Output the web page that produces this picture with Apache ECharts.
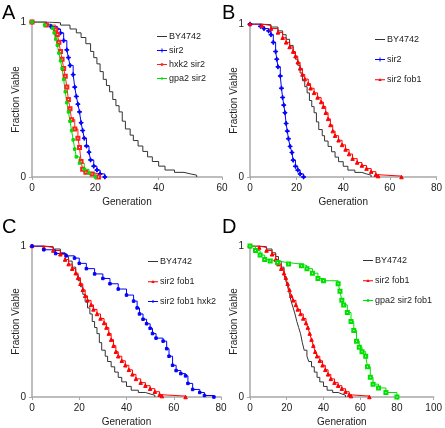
<!DOCTYPE html>
<html>
<head>
<meta charset="utf-8">
<script src="https://cdn.jsdelivr.net/npm/echarts@6/dist/echarts.min.js"></script>
<style>
html,body{margin:0;padding:0;background:#fff;}
#chart{width:445px;height:428px;}
</style>
</head>
<body>
<div id="chart"></div>
<script>
// ---- data (generation, fraction viable) ----
const by4742Gen  = [0,5,9,12,14,15.5,17,18.5,19.5,20.5,21.5,22.5,23.5,24.5,25.5,26.5,27.5,28.5,29.5,31,32,33.5,35,36.5,38,40,42,45,48,50,52];
const by4742Frac = [1,0.995,0.98,0.955,0.93,0.9,0.86,0.81,0.77,0.73,0.68,0.63,0.59,0.55,0.5,0.46,0.42,0.36,0.31,0.27,0.235,0.2,0.165,0.13,0.1,0.07,0.045,0.03,0.02,0.012,0];

const sir2Gen  = [0,4.5,6,8,9,10,11,11.5,12,13,13.5,14,14.5,15,15.5,16,16.5,17.2,18,18.5,19.5,20.5,21.5,23];
const sir2Frac = [1,0.985,0.97,0.955,0.93,0.88,0.82,0.77,0.72,0.66,0.58,0.52,0.47,0.42,0.35,0.3,0.25,0.2,0.16,0.11,0.07,0.045,0.02,0];

const hxk2Sir2Gen  = [0,4.5,7.5,8,8.5,9,9.5,10,10.5,11,11.5,12,12.5,13.5,14.5,15,15.5,16,17,19,21];
const hxk2Sir2Frac = [1,0.98,0.95,0.92,0.87,0.81,0.76,0.7,0.65,0.58,0.5,0.44,0.37,0.31,0.25,0.19,0.1,0.05,0.03,0.02,0];

const gpa2Sir2Gen  = [0,4,6.5,7,7.5,8,8.5,9,9.5,10,10.5,11,11.5,12,12.5,13,13.5,14,15,16.5,18,20];
const gpa2Sir2Frac = [1,0.98,0.96,0.93,0.89,0.85,0.8,0.75,0.7,0.63,0.55,0.48,0.42,0.36,0.3,0.24,0.18,0.13,0.09,0.05,0.025,0];

const sir2Fob1Gen  = [0,5,9,12,14,15.5,17,18.5,19.5,20.5,21.5,22.5,23.5,25,26,27.5,29,30.5,31.5,32.5,33.5,34.5,35.5,36.5,38,39.5,41,42.5,44,46,48,50,52,54,55,65];
const sir2Fob1Frac = [1,0.99,0.97,0.945,0.91,0.88,0.85,0.82,0.79,0.75,0.71,0.67,0.64,0.61,0.58,0.55,0.52,0.49,0.46,0.42,0.38,0.34,0.3,0.27,0.24,0.21,0.18,0.15,0.12,0.095,0.075,0.055,0.035,0.015,0.006,0];

const sir2Fob1Hxk2Gen  = [0,5,10,14.5,18,20,23,26.5,30,33,36.5,40,43,44.5,45.5,47,48.5,50,51,52.5,55.5,57,58,59.5,61,63,65,66,68,71,73,77];
const sir2Fob1Hxk2Frac = [1,0.975,0.95,0.935,0.92,0.885,0.85,0.815,0.785,0.75,0.715,0.675,0.635,0.59,0.55,0.515,0.485,0.455,0.42,0.39,0.37,0.32,0.27,0.21,0.175,0.155,0.14,0.09,0.05,0.03,0.01,0];

const gpa2Sir2Fob1Gen  = [0,3,5.5,8,11,15,21,28,31,34,37,40,48,49,50,51,53,55,56.5,58,59.5,61,63,64,65.5,67,70,74,80];
const gpa2Sir2Fob1Frac = [1,0.97,0.94,0.91,0.9,0.89,0.88,0.87,0.85,0.82,0.785,0.77,0.75,0.7,0.64,0.61,0.56,0.5,0.44,0.37,0.33,0.3,0.27,0.2,0.13,0.085,0.06,0.03,0];

const panelLetters = ['A','B','C','D'];
const xMax = [60, 80, 80, 100];
const legendA = ['BY4742','sir2','hxk2 sir2','gpa2 sir2'];
const legendB = ['BY4742','sir2','sir2 fob1'];
const legendC = ['BY4742','sir2 fob1','sir2 fob1 hxk2'];
const legendD = ['BY4742','sir2 fob1','gpa2 sir2 fob1'];

// ---- build ----
const FONT = 'Liberation Sans, Arial, sans-serif';
const AXIS_COLOR = '#a8a8a8';
const TEXT_COLOR = '#222';
const zip = (g, f) => g.map((v, i) => [v, f[i]]);
const PLUS = 'path://M2,0H3V2H5V3H3V5H2V3H0V2H2Z';

// legend icons: short line with small marker in the middle
const ICON_LINE   = 'path://M0,2.5H10V3.5H0Z';
const ICON_PLUS   = 'path://M0,2.5H4.5V1H5.5V2.5H10V3.5H5.5V5H4.5V3.5H0Z';
const ICON_SQUARE = 'path://M0,2.5H3.8V1.8H6.2V2.5H10V3.5H6.2V4.2H3.8V3.5H0Z';
const ICON_TRI    = 'path://M0,2.5H4.3L5,1.2L5.7,2.5H10V3.5H6.2L6.6,4.3H3.4L3.8,3.5H0Z';
const ICON_DOT    = 'path://M0,2.5H4V2H6V2.5H10V3.5H6V4H4V3.5H0Z';

const styles = {
  'BY4742':         {color:'#333333', symbol:'none', size:0, icon:ICON_LINE},
  'sir2':           {color:'#0000ff', symbol:PLUS, size:4, icon:ICON_PLUS},
  'hxk2 sir2':      {color:'#ff2020', symbol:'emptyRect', size:3, icon:ICON_SQUARE},
  'gpa2 sir2':      {color:'#00e000', symbol:'rect', size:2.5, icon:ICON_DOT},
  'sir2 fob1':      {color:'#ff0000', symbol:'triangle', size:3.5, icon:ICON_TRI},
  'sir2 fob1 hxk2': {color:'#0000ff', symbol:'rect', size:2.5, icon:ICON_DOT},
  'gpa2 sir2 fob1': {color:'#00e000', symbol:'emptyRect', size:3, icon:ICON_SQUARE}
};
const dataMap = {
  'BY4742': zip(by4742Gen, by4742Frac),
  'sir2': zip(sir2Gen, sir2Frac),
  'hxk2 sir2': zip(hxk2Sir2Gen, hxk2Sir2Frac),
  'gpa2 sir2': zip(gpa2Sir2Gen, gpa2Sir2Frac),
  'sir2 fob1': zip(sir2Fob1Gen, sir2Fob1Frac),
  'sir2 fob1 hxk2': zip(sir2Fob1Hxk2Gen, sir2Fob1Hxk2Frac),
  'gpa2 sir2 fob1': zip(gpa2Sir2Fob1Gen, gpa2Sir2Fob1Frac)
};

const grids = [
  {left:32,  top:22,  width:190, height:155},
  {left:250, top:24,  width:192, height:153},
  {left:32,  top:246, width:189, height:152},
  {left:250, top:246, width:188, height:152}
];
const panelSeries = [legendA, legendB, legendC, legendD];

const xAxes = grids.map((g, i) => ({
  gridIndex:i, type:'value', min:0, max:xMax[i], interval:20,
  name:'Generation', nameLocation:'middle', nameGap:20, nameMoveOverlap:false,
  nameTextStyle:{fontSize:10, color:TEXT_COLOR, fontFamily:FONT, verticalAlign:'top'},
  axisLine:{lineStyle:{color:AXIS_COLOR, width:1.5}},
  axisTick:{length:3, lineStyle:{color:AXIS_COLOR}},
  axisLabel:{fontSize:10, color:TEXT_COLOR, fontFamily:FONT, margin:6},
  splitLine:{show:false}
}));
const yAxes = grids.map((g, i) => ({
  gridIndex:i, type:'value', min:0, max:1, interval:1,
  name:'Fraction Viable', nameLocation:'middle', nameGap:11, nameRotate:90, nameMoveOverlap:false,
  nameTextStyle:{fontSize:10, color:TEXT_COLOR, fontFamily:FONT},
  axisLine:{show:true, lineStyle:{color:AXIS_COLOR, width:1.5}},
  axisTick:{show:true, length:3, lineStyle:{color:AXIS_COLOR}},
  axisLabel:{fontSize:10, color:TEXT_COLOR, fontFamily:FONT, margin:6},
  splitLine:{show:false}
}));

const series = [];
panelSeries.forEach((names, pi) => {
  names.forEach(name => {
    const st = styles[name];
    series.push({
      name, type:'line', xAxisIndex:pi, yAxisIndex:pi,
      data:dataMap[name], step:'end',
      symbol:st.symbol, symbolSize:st.size, showSymbol:st.symbol !== 'none',
      lineStyle:{color:st.color, width:1},
      itemStyle:{color:st.color, borderColor:st.color, borderWidth:1},
      animation:false, silent:true
    });
  });
});

const legendPos = [
  {left:157, top:32, itemGap:5},
  {left:375, top:35, itemGap:11},
  {left:148, top:257, itemGap:11},
  {left:363, top:256, itemGap:11}
];
const legends = panelSeries.map((names, i) => ({
  orient:'vertical', left:legendPos[i].left, top:legendPos[i].top,
  itemGap:legendPos[i].itemGap, itemWidth:10, itemHeight:6, padding:0,
  selectedMode:false, symbolKeepAspect:true,
  textStyle:{fontSize:9, color:TEXT_COLOR, fontFamily:FONT, padding:[0,0,0,-3]},
  data:names.map(n => ({name:n, icon:styles[n].icon, itemStyle:{color:styles[n].color, borderWidth:0}}))
}));

const letterPos = [[2,3],[222,3],[2,217],[222,217]];
const graphics = panelLetters.map((t, i) => ({
  type:'text', left:letterPos[i][0], top:letterPos[i][1],
  style:{text:t, fontSize:20, fontFamily:FONT, fill:'#000'}
}));

const chart = echarts.init(document.getElementById('chart'), null, {renderer:'canvas'});
chart.setOption({
  animation:false,
  backgroundColor:'#fff',
  grid:grids,
  xAxis:xAxes,
  yAxis:yAxes,
  legend:legends,
  graphic:graphics,
  series
});
</script>
</body>
</html>
